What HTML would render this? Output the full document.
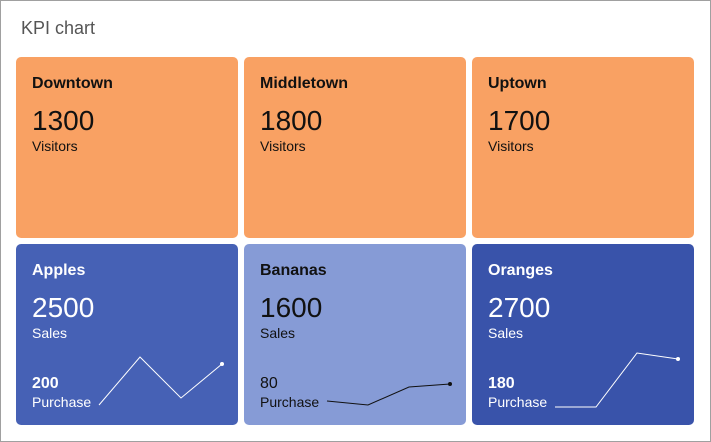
<!DOCTYPE html>
<html><head><style>
body{margin:0;width:711px;height:442px;overflow:hidden;font-family:"Liberation Sans",sans-serif;background:#fff}
.frame{position:absolute;left:0;top:0;width:709px;height:440px;border:1px solid #a0a0a0}
.t{position:absolute;left:21px;top:18px;font-size:18px;color:#555}
.c{position:absolute;width:222px;height:181px;border-radius:5px}
.c .n{position:absolute;left:16px;top:18px;font-size:16px;font-weight:bold}
.c .v{position:absolute;left:16px;top:48px;font-size:28px}
.c .l{position:absolute;left:16px;top:81px;font-size:14px}
.c .pv{position:absolute;left:16px;top:131px;font-size:16px;font-weight:bold}
.c .pl{position:absolute;left:16px;top:150px;font-size:14px}
.o{background:#f9a163;color:#111}
.w{color:#fff}
svg{position:absolute;left:0;top:0}
</style></head><body>
<div class="frame"></div>
<div class="t">KPI chart</div>
<div class="c o" style="left:16px;top:57px"><div class="n">Downtown</div><div class="v">1300</div><div class="l">Visitors</div></div>
<div class="c o" style="left:244px;top:57px"><div class="n">Middletown</div><div class="v">1800</div><div class="l">Visitors</div></div>
<div class="c o" style="left:472px;top:57px"><div class="n">Uptown</div><div class="v">1700</div><div class="l">Visitors</div></div>
<div class="c w" style="left:16px;top:244px;background:#4661b5"><div class="n">Apples</div><div class="v">2500</div><div class="l">Sales</div><div class="pv">200</div><div class="pl">Purchase</div></div>
<div class="c" style="left:244px;top:244px;background:#869bd6;color:#111"><div class="n">Bananas</div><div class="v">1600</div><div class="l">Sales</div><div class="pv" style="font-weight:normal">80</div><div class="pl">Purchase</div></div>
<div class="c w" style="left:472px;top:244px;background:#3953aa"><div class="n">Oranges</div><div class="v">2700</div><div class="l">Sales</div><div class="pv">180</div><div class="pl">Purchase</div></div>
<svg width="711" height="442">
<polyline points="99,405 140,357 181,398 222,364" fill="none" stroke="#fff" stroke-width="1"/>
<circle cx="222" cy="364" r="2" fill="#fff"/>
<polyline points="327,401 368,405 409,387 450,384" fill="none" stroke="#111" stroke-width="1"/>
<circle cx="450" cy="384" r="2" fill="#111"/>
<polyline points="555,407 596,407 637,353 678,359" fill="none" stroke="#fff" stroke-width="1"/>
<circle cx="678" cy="359" r="2" fill="#fff"/>
</svg>
</body></html>
